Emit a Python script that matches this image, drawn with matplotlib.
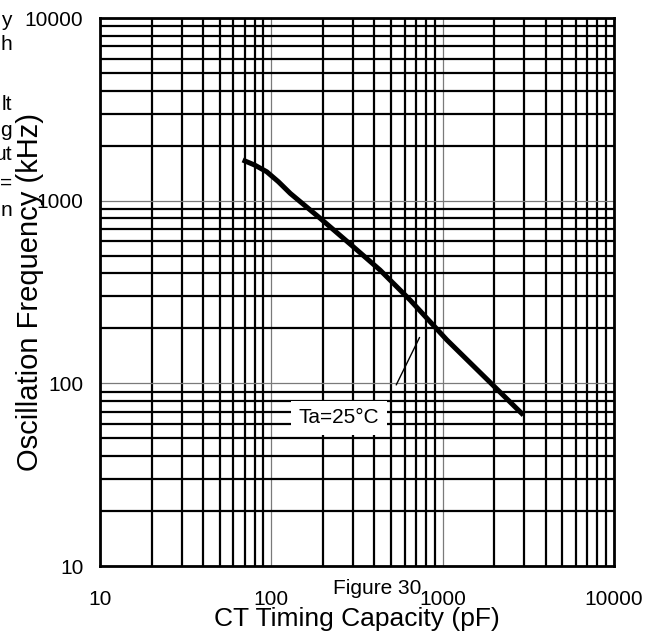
import matplotlib
matplotlib.use('Agg')
import matplotlib.pyplot as plt
from matplotlib.ticker import FixedLocator, LogLocator, NullFormatter

plt.rcParams['font.family'] = ['Liberation Sans', 'DejaVu Sans']

# CT timing capacity (pF) vs oscillation frequency (kHz)
cap_pf = [68, 80, 94, 110, 129, 193, 301, 431, 645, 1057, 2960]
freq_khz = [1670, 1566, 1440, 1269, 1096, 800, 559, 417, 286, 173, 67]

x_ticks = [10, 100, 1000, 10000]
y_ticks = [10, 100, 1000, 10000]
x_tick_labels = ['10', '100', '1000', '10000']
y_tick_labels = ['10', '100', '1000', '10000']

# clipped text fragments at the far left edge (rest of a paragraph off page)
side_fragments = ['y', 'h', 'lt', 'g', 'ut', '=', 'n']
side_fragment_y = [20, 45, 105, 130, 155, 183, 210]


if __name__ == '__main__':

    fig = plt.figure(figsize=(6.6, 6.32), dpi=100)
    ax = fig.add_axes([100 / 660, 66 / 632, 514 / 660, 548 / 632])

    ax.set_xscale('log')
    ax.set_yscale('log')
    ax.set_xlim(10, 10000)
    ax.set_ylim(10, 10000)

    ax.xaxis.set_major_locator(FixedLocator(x_ticks))
    ax.yaxis.set_major_locator(FixedLocator(y_ticks))
    ax.set_xticklabels(x_tick_labels)
    ax.set_yticklabels(y_tick_labels)
    ax.xaxis.set_minor_locator(LogLocator(base=10, subs=range(2, 10)))
    ax.yaxis.set_minor_locator(LogLocator(base=10, subs=range(2, 10)))
    ax.xaxis.set_minor_formatter(NullFormatter())
    ax.yaxis.set_minor_formatter(NullFormatter())

    ax.tick_params(which='both', length=0)
    ax.tick_params(axis='x', pad=17, labelsize=15)
    ax.tick_params(axis='y', pad=12, labelsize=15)

    ax.grid(which='minor', color='black', lw=1.6)
    ax.grid(which='major', color='#7a7a7a', lw=0.9)
    ax.set_axisbelow(True)

    for sp in ax.spines.values():
        sp.set_linewidth(2.0)
        sp.set_color('black')

    ax.plot(cap_pf, freq_khz, color='black', lw=3.6, solid_capstyle='butt')

    ax.annotate('', xy=(745, 184), xytext=(527, 95),
                arrowprops=dict(arrowstyle='-', color='black', lw=1.0))
    ax.text(248, 64.6, 'Ta=25°C', fontsize=15, ha='center', va='center',
            bbox=dict(boxstyle='square,pad=0.35', fc='white', ec='none'))

    ax.set_xlabel('CT Timing Capacity (pF)', fontsize=19)
    ax.xaxis.set_label_coords(0.5, -0.074)
    ax.set_ylabel('Oscillation Frequency (kHz)', fontsize=21)
    ax.yaxis.set_label_coords(-0.108, 0.5)

    fig.text(377 / 660, 1 - 588 / 632, 'Figure 30', fontsize=15,
             ha='center', va='center')

    for frag, yp in zip(side_fragments, side_fragment_y):
        fig.text(12 / 660, 1 - yp / 632, frag, fontsize=15,
                 ha='right', va='center')

    fig.savefig('out.png', dpi=100)
